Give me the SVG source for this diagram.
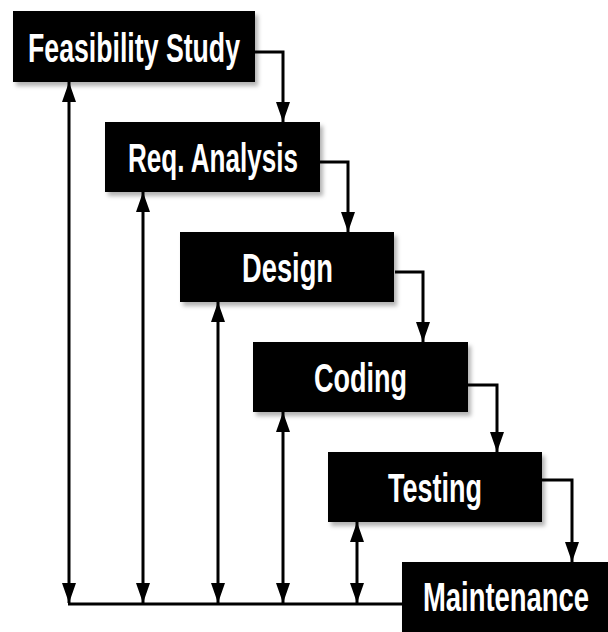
<svg xmlns="http://www.w3.org/2000/svg" width="608" height="632" viewBox="0 0 608 632">
  <style>
    .box { fill: #000; filter: url(#sh); }
    .lbl { fill: #fff; font-family: "Liberation Sans Narrow", "Liberation Sans", Arial, sans-serif; font-weight: bold; font-size: 40px; }
    .conn { fill: none; stroke: #000; stroke-width: 3; }
  </style>
  <defs>
    <filter id="sh" x="-10%" y="-10%" width="130%" height="140%">
      <feDropShadow dx="3" dy="4" stdDeviation="2" flood-color="#000" flood-opacity="0.3"/>
    </filter>
    <marker id="ah" viewBox="0 0 20 14" refX="20" refY="7" markerWidth="20" markerHeight="14" markerUnits="userSpaceOnUse" orient="auto-start-reverse">
      <path d="M0,0 L20,7 L0,14 z" fill="#000"/>
    </marker>
  </defs>
  <rect width="608" height="632" fill="#fff"/>

  <g id="connectors">
    <path class="conn" d="M255,52 H283 V122" marker-end="url(#ah)"/>
    <path class="conn" d="M320,162 H348 V232" marker-end="url(#ah)"/>
    <path class="conn" d="M395,272 H423 V342" marker-end="url(#ah)"/>
    <path class="conn" d="M468,385 H497 V452" marker-end="url(#ah)"/>
    <path class="conn" d="M542,480 H572 V562" marker-end="url(#ah)"/>
    <path class="conn" d="M68,604 H404"/>
    <path class="conn" d="M69,603 V82" marker-start="url(#ah)" marker-end="url(#ah)"/>
    <path class="conn" d="M143,603 V192" marker-start="url(#ah)" marker-end="url(#ah)"/>
    <path class="conn" d="M218,603 V302" marker-start="url(#ah)" marker-end="url(#ah)"/>
    <path class="conn" d="M283,603 V412" marker-start="url(#ah)" marker-end="url(#ah)"/>
    <path class="conn" d="M357,603 V522" marker-start="url(#ah)" marker-end="url(#ah)"/>
  </g>

  <g id="feasibility">
    <rect class="box" x="13" y="11" width="242" height="71"/>
    <text class="lbl" x="28" y="62" textLength="212" lengthAdjust="spacingAndGlyphs">Feasibility Study</text>
  </g>
  <g id="req-analysis">
    <rect class="box" x="105" y="122" width="215" height="70"/>
    <text class="lbl" x="128" y="172" textLength="170" lengthAdjust="spacingAndGlyphs">Req. Analysis</text>
  </g>
  <g id="design">
    <rect class="box" x="180" y="232" width="214" height="70"/>
    <text class="lbl" x="242" y="282" textLength="91" lengthAdjust="spacingAndGlyphs">Design</text>
  </g>
  <g id="coding">
    <rect class="box" x="253" y="342" width="215" height="70"/>
    <text class="lbl" x="314" y="392" textLength="93" lengthAdjust="spacingAndGlyphs">Coding</text>
  </g>
  <g id="testing">
    <rect class="box" x="328" y="452" width="214" height="70"/>
    <text class="lbl" x="388" y="502" textLength="94" lengthAdjust="spacingAndGlyphs">Testing</text>
  </g>
  <g id="maintenance">
    <rect class="box" x="402" y="562" width="206" height="70"/>
    <text class="lbl" x="423" y="611" textLength="166" lengthAdjust="spacingAndGlyphs">Maintenance</text>
  </g>
</svg>
